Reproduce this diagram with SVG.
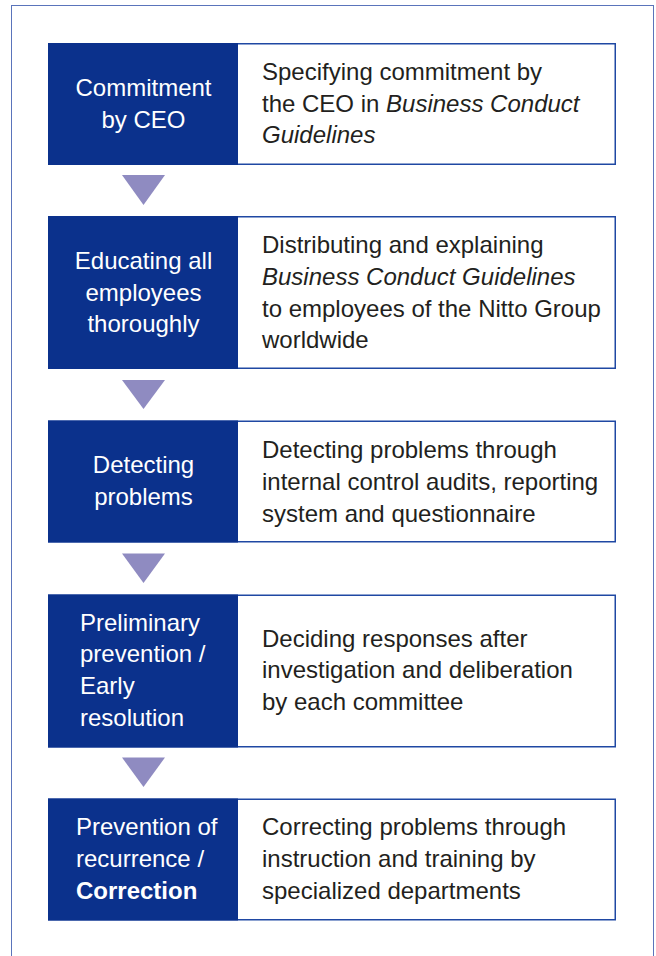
<svg xmlns="http://www.w3.org/2000/svg" width="656" height="956" viewBox="0 0 656 956">
<style>
.frame{fill:#ffffff;stroke:#5a74bb;stroke-width:1}
.box{fill:#ffffff;stroke:#1f48a3;stroke-width:1.5}
.head{fill:#0b318c}
.lt{font-family:"Liberation Sans",Arial,Helvetica,sans-serif;font-size:24px;fill:#ffffff}
.c{text-anchor:middle}
.rt{font-family:"Liberation Sans",Arial,Helvetica,sans-serif;font-size:24px;fill:#231f20}
.it{font-style:italic}
.arrow{fill:#8f8bc1}
</style>
<rect class="frame" x="11.5" y="5.5" width="642" height="960"/>
<g id="node1">
<rect class="box" x="48.75" y="43.75" width="566.5" height="120.5"/>
<rect class="head" x="48" y="43" width="190" height="122"/>
<text class="lt c" x="143.5"><tspan x="143.5" y="96">Commitment</tspan><tspan x="143.5" y="128">by CEO</tspan></text>
<text class="rt"><tspan x="262" y="80">Specifying commitment by</tspan><tspan x="262" y="112">the CEO in <tspan class="it">Business Conduct</tspan></tspan><tspan x="262" y="143" class="it">Guidelines</tspan></text>
</g>
<g id="node2">
<rect class="box" x="48.75" y="216.75" width="566.5" height="151.5"/>
<rect class="head" x="48" y="216" width="190" height="153"/>
<text class="lt c"><tspan x="143.5" y="269">Educating all</tspan><tspan x="143.5" y="300.5">employees</tspan><tspan x="143.5" y="332">thoroughly</tspan></text>
<text class="rt"><tspan x="262" y="253">Distributing and explaining</tspan><tspan x="262" y="285" class="it">Business Conduct Guidelines</tspan><tspan x="262" y="317">to employees of the Nitto Group</tspan><tspan x="262" y="348">worldwide</tspan></text>
</g>
<g id="node3">
<rect class="box" x="48.75" y="421.25" width="566.5" height="120.5"/>
<rect class="head" x="48" y="420.5" width="190" height="122"/>
<text class="lt c"><tspan x="143.5" y="473">Detecting</tspan><tspan x="143.5" y="505">problems</tspan></text>
<text class="rt"><tspan x="262" y="458">Detecting problems through</tspan><tspan x="262" y="490">internal control audits, reporting</tspan><tspan x="262" y="521.5">system and questionnaire</tspan></text>
</g>
<g id="node4">
<rect class="box" x="48.75" y="595.25" width="566.5" height="151.5"/>
<rect class="head" x="48" y="594.5" width="190" height="153"/>
<text class="lt"><tspan x="80" y="631">Preliminary</tspan><tspan x="80" y="662">prevention /</tspan><tspan x="80" y="694">Early</tspan><tspan x="80" y="726">resolution</tspan></text>
<text class="rt"><tspan x="262" y="647">Deciding responses after</tspan><tspan x="262" y="678">investigation and deliberation</tspan><tspan x="262" y="710">by each committee</tspan></text>
</g>
<g id="node5">
<rect class="box" x="48.75" y="799.25" width="566.5" height="120.5"/>
<rect class="head" x="48" y="798.5" width="190" height="122"/>
<text class="lt"><tspan x="76" y="835">Prevention of</tspan><tspan x="76" y="867">recurrence /</tspan><tspan x="76" y="899" font-weight="bold">Correction</tspan></text>
<text class="rt"><tspan x="262" y="835">Correcting problems through</tspan><tspan x="262" y="867">instruction and training by</tspan><tspan x="262" y="899">specialized departments</tspan></text>
</g>
<g id="connectors">
<polygon class="arrow" points="122,175 165,175 143.5,205"/>
<polygon class="arrow" points="122,380 165,380 143.5,409"/>
<polygon class="arrow" points="122,553.5 165,553.5 143.5,583"/>
<polygon class="arrow" points="122,757.5 165,757.5 143.5,787"/>
</g>
</svg>
